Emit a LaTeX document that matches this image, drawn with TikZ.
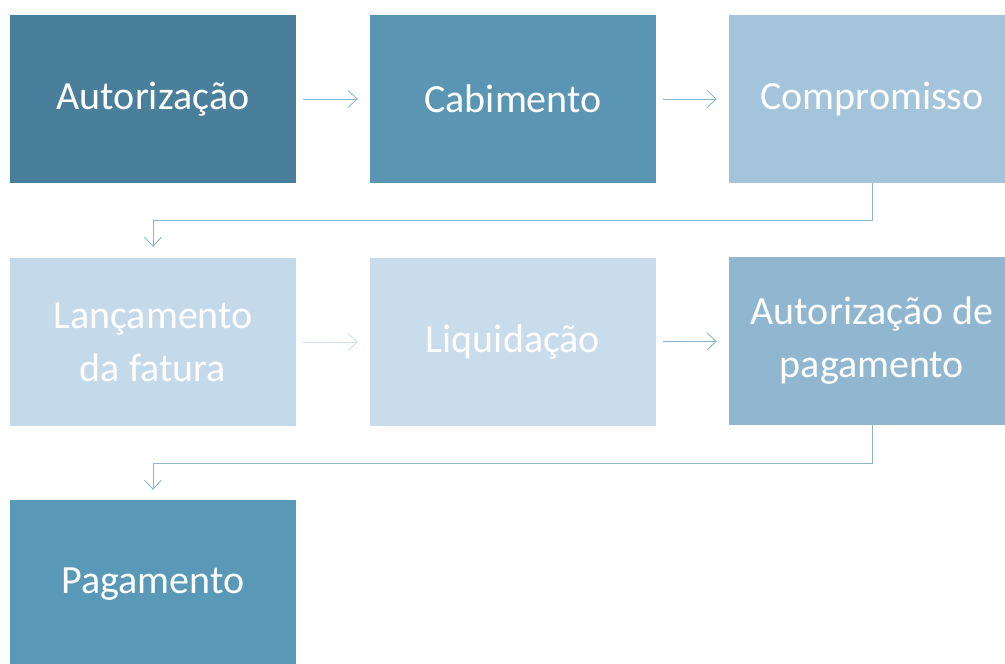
\documentclass[tikz,border=0pt]{standalone}
\usepackage{fontspec}
\setmainfont{Carlito}
\usepackage{tikz}
\usetikzlibrary{arrows.meta}
\definecolor{tonea}{HTML}{4A7F9B}
\definecolor{toneb}{HTML}{5A96B4}
\definecolor{tonec}{HTML}{A3C4DA}
\definecolor{toned}{HTML}{C4D9EA}
\definecolor{tonee}{HTML}{C9DCEB}
\definecolor{tonef}{HTML}{91B7D0}
\definecolor{toneg}{HTML}{5A98B7}
\definecolor{linkcol}{HTML}{8DB6CE}
\newcommand{\boxfont}{\fontsize{40}{53}\selectfont}
\begin{document}
\begin{tikzpicture}[x=1pt,y=-1pt,
every node/.style={text=white,align=center,font=\boxfont},
stage/.style={minimum width=286pt,minimum height=168pt,inner sep=0pt},
link/.style={draw=linkcol,line width=0.9pt,-{Straight Barb[length=9pt,width=17pt]},shorten <=7pt,shorten >=12pt}]
\useasboundingbox (0,0) rectangle (1005,664);
\clip (0,0) rectangle (1005,664);

%first row
\node[stage,fill=tonea](aut) at (153,99) {Autorização};
\node[stage,fill=toneb](cab) at (513,99) {Cabimento};
\node[stage,fill=tonec](comp) at (872,99) {Compromisso};
%second row
\node[stage,fill=toned](lanc) at (153,342) {Lançamento\\da fatura};
\node[stage,fill=tonee](liq) at (513,342) {Liquidação};
\node[stage,fill=tonef](autpag) at (872,341) {Autorização de\\pagamento};
%third row
\node[stage,fill=toneg](pag) at (153,584) {Pagamento};

%connectors
\draw[link] (aut) -- (cab);
\draw[link] (cab) -- (comp);
\draw[link,shorten <=0pt,shorten >=11pt] (comp.south) -- ++(0,37) -| (lanc.north);
\draw[link,draw=linkcol!45] (lanc) -- (liq);
\draw[link] (liq) -- (autpag);
\draw[link,shorten <=0pt,shorten >=10pt] (autpag.south) -- ++(0,38) -| (pag.north);
\end{tikzpicture}
\end{document}
